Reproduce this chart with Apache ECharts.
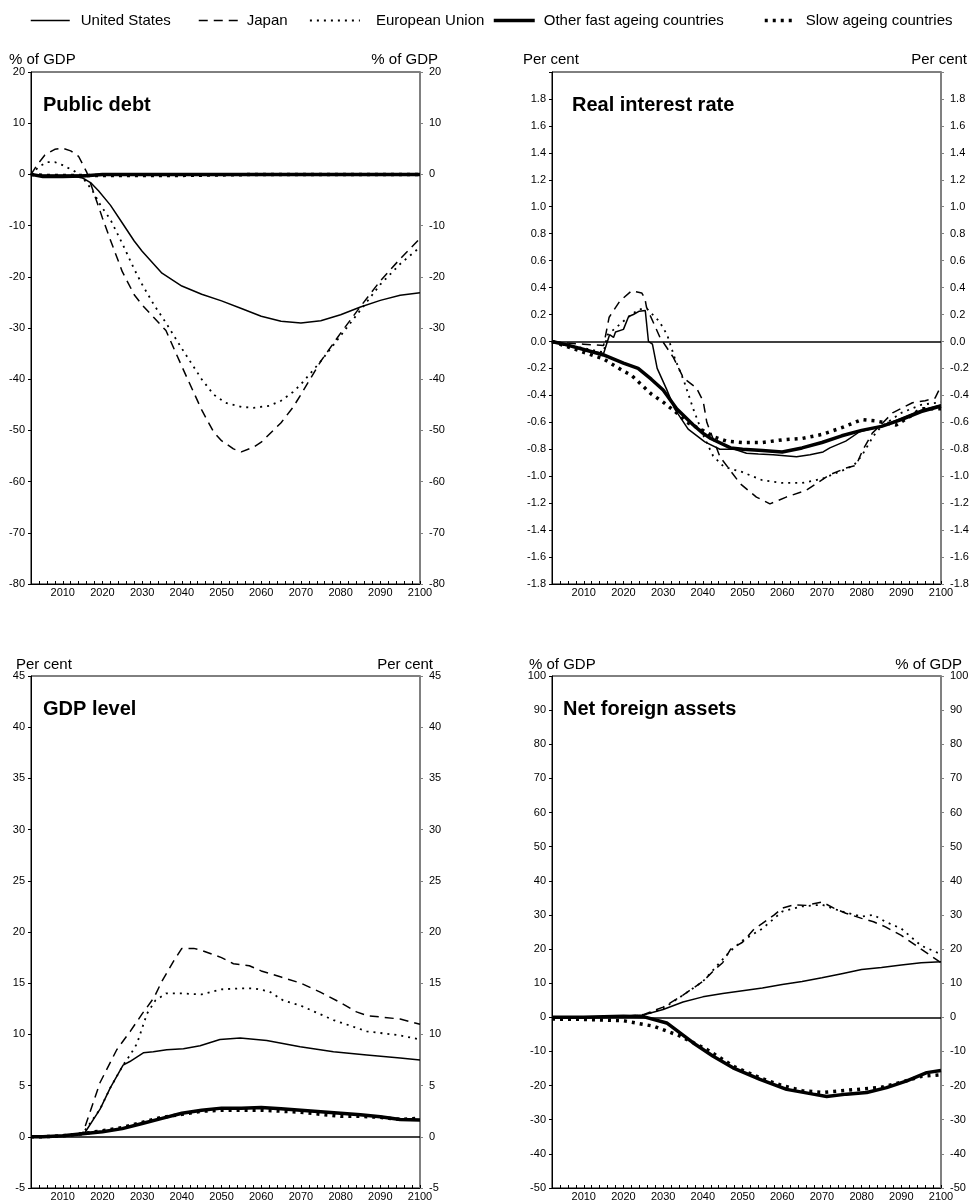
<!DOCTYPE html>
<html>
<head>
<meta charset="utf-8">
<script src="https://cdn.jsdelivr.net/npm/echarts/dist/echarts.min.js"></script>
<style>html,body{margin:0;padding:0;background:#fff;}#chart{width:972px;height:1202px;}</style>
</head>
<body>
<div id="chart"></div>
<script>
// ---------- DATA ----------
const seriesNames = ['United States', 'Japan', 'European Union', 'Other fast ageing countries', 'Slow ageing countries'];
const panelTitles = ['Public debt', 'Real interest rate', 'GDP level', 'Net foreign assets'];
const unitLabels = ['% of GDP', 'Per cent', 'Per cent', '% of GDP'];

// Panel 1: Public debt (% of GDP)
const debtUS_x = [2002,2005,2010,2013,2015,2017,2019,2022,2025,2028,2030,2035,2040,2045,2050,2055,2060,2065,2070,2075,2080,2085,2090,2095,2100];
const debtUS   = [0,-0.4,-0.5,-0.4,-0.7,-1.6,-3.2,-6,-9.5,-13,-15,-19.3,-21.8,-23.4,-24.7,-26.2,-27.7,-28.7,-29,-28.6,-27.4,-25.9,-24.6,-23.6,-23.1];
const debtJP_x = [2002,2003.5,2005.5,2008,2010,2012,2014,2016,2018,2020,2022,2025,2028,2030,2033,2036,2040,2045,2048,2050,2053,2055,2058,2060,2065,2068,2070,2075,2080,2085,2090,2095,2100];
const debtJP   = [0,1.8,3.8,4.9,5.1,4.6,3.5,0.5,-4,-8.5,-12.8,-19,-23.5,-25.5,-28,-30.5,-37.5,-46,-50.3,-52,-53.6,-54.2,-53.3,-52.3,-48.5,-45.5,-43,-36.5,-31,-25.8,-20.8,-16.5,-12.5];
const debtEU_x = [2002,2004,2006,2008,2010,2013,2015,2017.5,2019.5,2022,2025,2028,2030,2033,2036,2040,2045,2048,2051,2055,2058,2062,2065,2068,2070,2075,2080,2085,2090,2095,2100];
const debtEU   = [0,1.5,2.4,2.4,1.8,0.6,-0.6,-3.2,-6,-8.8,-13.5,-18.5,-21.5,-25.5,-29,-34,-40,-43,-44.6,-45.4,-45.6,-45.2,-44.2,-42.5,-41,-36.5,-31.5,-26.5,-21.5,-17.5,-14.2];
const debtOF_x = [2002,2005,2010,2015,2020,2030,2040,2050,2060,2070,2080,2090,2100];
const debtOF   = [0,-0.4,-0.4,-0.3,0,0,0,0,0,0,0,0,0];
const debtSL_x = [2002,2005,2010,2015,2020,2030,2040,2050,2060,2070,2080,2090,2100];
const debtSL   = [0,-0.2,-0.2,-0.2,-0.2,-0.2,-0.2,-0.1,0,0,0,0,0];

// Panel 2: Real interest rate (per cent)
const rateUS_x = [2002,2005,2010,2015,2015.5,2016.5,2017.5,2018,2020,2021.3,2022.5,2024,2025.5,2026.3,2027.3,2028.5,2030.8,2032.9,2036.3,2040.5,2044.3,2048,2051,2054,2057.7,2063.6,2067,2070.3,2072,2076,2079.5,2085,2090,2095,2100];
const rateUS   = [0,-0.02,-0.06,-0.09,-0.1,0.05,0.03,0.07,0.09,0.185,0.2,0.225,0.23,0,-0.02,-0.2,-0.35,-0.5,-0.65,-0.745,-0.8,-0.8,-0.83,-0.835,-0.84,-0.855,-0.84,-0.82,-0.79,-0.74,-0.67,-0.63,-0.57,-0.51,-0.47];
const rateJP_x = [2002,2005,2010,2015,2015.3,2016.4,2019.1,2022,2024.6,2025.4,2025.8,2029.2,2032.6,2035.1,2038.4,2040.1,2041,2044.3,2049.4,2053.5,2056.9,2061,2066,2068.6,2071.9,2076,2078.6,2080.3,2082.7,2085.3,2087.8,2092.8,2096,2098.5,2100];
const rateJP   = [0,-0.01,-0.02,-0.03,-0.04,0.18,0.3,0.375,0.36,0.32,0.255,0.03,-0.12,-0.27,-0.345,-0.445,-0.6,-0.855,-1.055,-1.155,-1.205,-1.155,-1.105,-1.055,-0.99,-0.94,-0.92,-0.805,-0.68,-0.605,-0.53,-0.455,-0.44,-0.42,-0.33];
const rateEU_x = [2002,2005,2010,2015,2016,2018,2020,2022,2024,2026,2029,2031,2033,2035.2,2037.7,2040.3,2042.6,2045.3,2050,2055,2060,2065,2070,2075,2078,2080,2083,2085,2090,2095,2100];
const rateEU   = [0,-0.02,-0.05,-0.08,0.05,0.1,0.15,0.2,0.24,0.24,0.15,0.05,-0.13,-0.29,-0.51,-0.71,-0.85,-0.93,-0.97,-1.03,-1.05,-1.05,-1.02,-0.96,-0.92,-0.85,-0.7,-0.63,-0.53,-0.47,-0.45];
const rateOF_x = [2002,2005,2010,2015,2020,2023.7,2027,2030,2033.4,2037.6,2040,2042,2047,2050,2055,2060,2065,2070,2075,2080,2085,2090,2095,2100];
const rateOF   = [0,-0.02,-0.06,-0.1,-0.16,-0.2,-0.28,-0.36,-0.5,-0.62,-0.68,-0.72,-0.79,-0.8,-0.81,-0.82,-0.79,-0.75,-0.7,-0.66,-0.63,-0.58,-0.52,-0.48];
const rateSL_x = [2002,2005,2010,2015,2020,2022,2027,2030,2033,2036,2040,2043,2046,2050,2055,2060,2065,2070,2075,2080,2083.7,2088.7,2092,2095,2100];
const rateSL   = [0,-0.03,-0.08,-0.13,-0.22,-0.25,-0.39,-0.45,-0.52,-0.6,-0.66,-0.71,-0.74,-0.75,-0.75,-0.73,-0.72,-0.69,-0.64,-0.58,-0.59,-0.62,-0.56,-0.5,-0.5];

// Panel 3: GDP level (per cent)
const gdpUS_x = [2002,2005,2010,2015,2015.6,2019.4,2022,2025.2,2026.9,2030.3,2032.8,2036.2,2040.4,2044.6,2049.6,2054.7,2061.4,2069.8,2078.2,2086.6,2095,2100];
const gdpUS   = [0,0,0.1,0.3,0.42,2.7,4.8,7.0,7.35,8.2,8.3,8.5,8.6,8.9,9.5,9.65,9.4,8.8,8.3,8.0,7.7,7.5];
const gdpJP_x = [2002,2005,2010,2015,2019.4,2023.6,2027,2030,2033,2035,2038,2040,2043,2045,2050,2053,2057,2060,2065,2070,2075,2080,2084,2087,2090,2095,2100];
const gdpJP   = [0,0,0.1,0.3,5.3,8.5,10.3,12,13.6,15.2,17.2,18.4,18.4,18.2,17.5,16.9,16.7,16.2,15.6,15.0,14.1,13.1,12.2,11.8,11.7,11.5,11.0];
const gdpEU_x = [2002,2005,2010,2015,2019.4,2022,2025.2,2027,2028.7,2031.2,2033.3,2036,2040,2045,2050,2055,2058,2062,2065.6,2070,2078.2,2086.6,2095,2100];
const gdpEU   = [0,0,0.1,0.3,2.7,4.8,7.0,8.0,9.1,12.0,13.3,14.0,14.0,13.9,14.4,14.5,14.5,14.2,13.3,12.8,11.4,10.3,9.9,9.5];
const gdpOF_x = [2002,2005,2010,2015,2020,2025,2030,2035,2040,2045,2050,2055,2060,2065,2070,2075,2080,2085,2090,2095,2100];
const gdpOF   = [0,0,0.1,0.3,0.5,0.8,1.3,1.8,2.3,2.6,2.8,2.8,2.85,2.75,2.6,2.45,2.3,2.15,1.95,1.7,1.65];
const gdpSL_x = [2002,2005,2010,2015,2020,2025,2030,2035,2040,2045,2050,2055,2060,2065,2070,2075,2080,2085,2090,2095,2100];
const gdpSL   = [0,0,0.1,0.3,0.6,0.9,1.4,1.9,2.2,2.5,2.6,2.6,2.6,2.5,2.4,2.2,2.0,2.0,1.9,1.7,1.8];

// Panel 4: Net foreign assets (% of GDP)
const nfaUS_x = [2002,2010,2020,2025,2030,2035,2040,2045,2050,2055,2060,2065,2070,2075,2080,2085,2090,2095,2100];
const nfaUS   = [0,0,0.3,0.7,2.3,4.5,6,7,7.8,8.6,9.6,10.5,11.6,12.8,14,14.6,15.3,16,16.3];
const nfaJP_x = [2002,2010,2020,2025,2030,2035,2040,2043,2045,2047,2050,2053,2055,2058,2060,2063,2066,2070,2073,2076,2080,2083,2086,2090,2095,2100];
const nfaJP   = [0,0,0.3,0.8,3,6.5,10.5,14,16,20,22,26,27.5,30,32,33,32.8,33.8,32,30.5,29,28,26.5,24,20,16];
const nfaEU_x = [2002,2010,2020,2025,2030,2035,2040,2045,2047,2050,2055,2060,2065,2070,2075,2080,2083,2086,2090,2095,2100];
const nfaEU   = [0,0,0.3,0.6,2.6,6.5,10.5,17,19.5,22.5,26,31,32.5,33,31,29.5,30,28,26,21,18.5];
const nfaOF_x = [2002,2010,2020,2025,2030.9,2037.6,2042.6,2047.6,2054.4,2061.1,2067.8,2071.2,2076.2,2081.3,2086.3,2091.4,2096.4,2100];
const nfaOF   = [0,0,0.3,0.2,-1.65,-7.5,-11.4,-14.8,-18.2,-21.1,-22.5,-23.2,-22.5,-22,-20.6,-18.6,-16.2,-15.6];
const nfaSL_x = [2002,2010,2020,2027.6,2034.3,2041,2048,2055,2060,2065,2070,2075,2080,2085,2090,2095,2100];
const nfaSL   = [-0.5,-0.6,-1,-2.6,-5.5,-9.4,-14.5,-18,-20,-21.5,-22,-21.5,-21,-20.5,-19,-17.3,-16.8];

// Axis scales per panel
const yMins = [-80, -1.8, -5, -50];
const yMaxs = [20, 2.0, 45, 100];
const yIntervals = [10, 0.2, 5, 10];
const xMin = 2002, xMax = 2100;

// ---------- BUILD ----------
const FONT = '"Liberation Sans", Arial, Helvetica, sans-serif';
const styles = {
  'United States': {color:'#000', width:1.5, type:'solid'},
  'Japan': {color:'#000', width:1.5, type:[9,6]},
  'European Union': {color:'#000', width:1.8, type:[2,5]},
  'Other fast ageing countries': {color:'#000', width:3.5, type:'solid'},
  'Slow ageing countries': {color:'#000', width:3.5, type:[3,5]}
};
const panelData = [
  [[debtUS_x,debtUS],[debtJP_x,debtJP],[debtEU_x,debtEU],[debtOF_x,debtOF],[debtSL_x,debtSL]],
  [[rateUS_x,rateUS],[rateJP_x,rateJP],[rateEU_x,rateEU],[rateOF_x,rateOF],[rateSL_x,rateSL]],
  [[gdpUS_x,gdpUS],[gdpJP_x,gdpJP],[gdpEU_x,gdpEU],[gdpOF_x,gdpOF],[gdpSL_x,gdpSL]],
  [[nfaUS_x,nfaUS],[nfaJP_x,nfaJP],[nfaEU_x,nfaEU],[nfaOF_x,nfaOF],[nfaSL_x,nfaSL]]
];
const grids = [
  {left:31, top:72, width:389, height:512},
  {left:552, top:72, width:389, height:512},
  {left:31, top:676, width:389, height:513},
  {left:552, top:676, width:389, height:513}
].map(g => Object.assign({show:true, borderColor:'#000', borderWidth:1, backgroundColor:'transparent'}, g));

const fmtY = (gi) => (v) => {
  if (gi === 1) {
    if (v > 1.95) return '';
    if (Math.abs(v) < 1e-9) return '0.0';
    return v.toFixed(1);
  }
  return String(Math.round(v));
};

const xAxes = grids.map((g, gi) => ({
  type:'value', gridIndex:gi, min:xMin, max:xMax, interval:2,
  axisLine:{show:true, onZero:false, lineStyle:{color:'#000', width:1}},
  axisTick:{show:true, inside:true, length:3, lineStyle:{color:'#000'}},
  axisLabel:{show:true, margin:3, fontSize:11, color:'#000', fontFamily:FONT,
    showMinLabel:true, showMaxLabel:true,
    formatter:(v)=> (Math.round(v) % 10 === 0 ? String(Math.round(v)) : '')},
  splitLine:{show:false}
}));
const yAxes = [];
grids.forEach((g, gi) => {
  ['left','right'].forEach(pos => {
    yAxes.push({
      type:'value', gridIndex:gi, position:pos, min:yMins[gi], max:yMaxs[gi], interval:yIntervals[gi],
      axisLine:{show:true, onZero:false, lineStyle:{color: pos==='left' ? '#000' : '#808080', width: pos==='left' ? 1 : 2}},
      axisTick:{show:true, inside:false, length:3, lineStyle:{color: pos==='left' ? '#000' : '#808080'}},
      axisLabel:{show:true, margin: pos==='left' ? 6 : 9, fontSize:11, color:'#000', fontFamily:FONT, formatter:fmtY(gi),
        showMinLabel:true, showMaxLabel:true},
      splitLine:{show:false}
    });
  });
});

const series = [];
panelData.forEach((sets, gi) => {
  sets.forEach((pair, si) => {
    const name = seriesNames[si];
    const s = {
      name, type:'line', xAxisIndex:gi, yAxisIndex:gi*2, symbol:'none', smooth:false,
      silent:true, animation:false,
      lineStyle:Object.assign({cap:'butt'}, styles[name]),
      itemStyle:{color:'#000'},
      data: pair[0].map((yr, i) => [yr, pair[1][i]]),
      z: si >= 3 ? 3 : 4
    };
    if (si === 0) {
      s.markLine = {silent:true, symbol:'none', label:{show:false}, animation:false,
        lineStyle:{color:'#000', width:1.5, type:'solid'}, data:[{yAxis:0}]};
    }
    series.push(s);
  });
});

// Titles: panel titles and unit labels
const titles = [];
const titlePos = [{left:43, top:95}, {left:572, top:95}, {left:43, top:699}, {left:563, top:699}];
panelTitles.forEach((t, i) => titles.push({text:t, left:titlePos[i].left, top:titlePos[i].top, padding:0,
  textStyle:{fontSize:20, fontWeight:'bold', color:'#000', fontFamily:FONT}}));
const unitPosL = [{left:9, top:52}, {left:523, top:52}, {left:16, top:657}, {left:529, top:657}];
const unitPosR = [{right:534, top:52}, {right:5, top:52}, {right:539, top:657}, {right:10, top:657}];
unitLabels.forEach((u, i) => {
  titles.push({text:u, left:unitPosL[i].left, top:unitPosL[i].top, padding:0,
    textStyle:{fontSize:15, fontWeight:'normal', color:'#000', fontFamily:FONT}});
  titles.push({text:u, right:unitPosR[i].right, top:unitPosR[i].top, padding:0,
    textStyle:{fontSize:15, fontWeight:'normal', color:'#000', fontFamily:FONT}});
});

// Legends (one per item to reproduce spacing); symbol hidden, line sample only
const legendPos = [
  {left:30, w:39, pad:6},
  {left:198, w:39, pad:4},
  {left:309, w:50, pad:11},
  {left:492, w:41, pad:4},
  {left:763, w:31, pad:5}
];
const legends = seriesNames.map((n, i) => ({
  data:[n], left:legendPos[i].left, top:13, padding:0, itemWidth:legendPos[i].w, itemHeight:14,
  selectedMode:false,
  itemStyle:{opacity:0, borderWidth:0},
  lineStyle:{color:'#000', width:styles[n].width, type:styles[n].type, cap:'butt'},
  textStyle:{fontSize:15, color:'#000', fontFamily:FONT, padding:[0,0,0,legendPos[i].pad]}
}));

const chart = echarts.init(document.getElementById('chart'), null, {renderer:'canvas'});
chart.setOption({
  animation:false,
  backgroundColor:'#fff',
  title:titles,
  legend:legends,
  grid:grids,
  xAxis:xAxes,
  yAxis:yAxes,
  series
});
</script>
</body>
</html>
